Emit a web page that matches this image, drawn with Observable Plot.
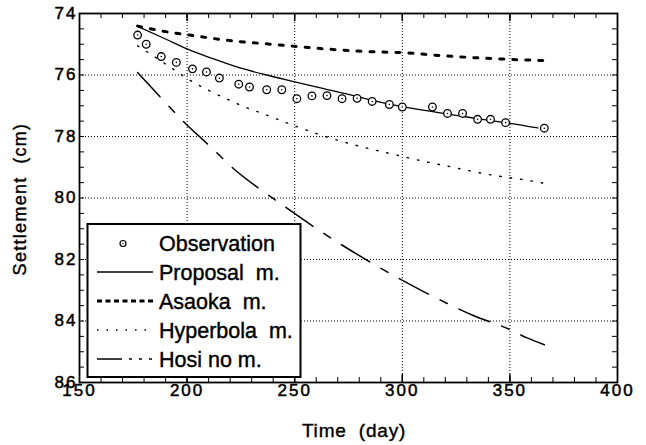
<!DOCTYPE html>
<html><head><meta charset="utf-8">
<script src="https://cdn.jsdelivr.net/npm/d3@7"></script>
<script src="https://cdn.jsdelivr.net/npm/@observablehq/plot@0.6"></script>
<style>body{margin:0;background:#fff}#chart{width:646px;height:445px}</style>
</head><body><div id="chart"></div>
<script>
// Observations
const obsDay = [177,181,188,195,202.5,209,215,224,229,237,244,251,258,265,272,279,286,294,300,314,321,328,335,341,348,366];
const obsCm  = [74.70,75.00,75.40,75.59,75.80,75.90,76.10,76.30,76.39,76.48,76.48,76.77,76.68,76.67,76.77,76.76,76.86,76.96,77.04,77.04,77.25,77.25,77.44,77.44,77.55,77.73];
// Proposal method
const propDay = [177,190,200,212,225,237,250,262,275,287,300,312,325,337,350,363];
const propCm  = [74.42,74.83,75.15,75.47,75.78,76.00,76.22,76.42,76.63,76.84,77.03,77.17,77.31,77.44,77.57,77.72];
// Asaoka method
const asaDay = [177,190,202,221,239,257,276,288,299,318,343,361,366];
const asaCm  = [74.41,74.59,74.71,74.89,75.00,75.11,75.21,75.25,75.27,75.37,75.47,75.52,75.53];
// Hyperbola method
const hypDay = [177,188,197,202,209,215,221,226,233,245,257,269,282,294,307,320,343,356,366];
const hypCm  = [75.05,75.55,75.97,76.20,76.46,76.67,76.86,77.02,77.20,77.52,77.83,78.10,78.35,78.55,78.76,78.95,79.27,79.40,79.52];
// Hosi no method
const hosiDay = [177,188,199,211,223,235,245,260,284,298,309,333,349,358,366];
const hosiCm  = [75.92,76.75,77.56,78.34,79.13,79.77,80.26,80.99,82.04,82.60,83.01,83.82,84.25,84.55,84.77];

const xTicks = [150,200,250,300,350,400];
const yTicks = [74,76,78,80,82,84,86];
const xGrid = [200,250,300,350];
const yGrid = [76,78,80,82,84];
const xMinor = d3.range(150,401,10);
const yMinor = d3.range(74,86.01,0.5);

const legendItems = ["Observation","Proposal  m.","Asaoka  m.","Hyperbola  m.","Hosi no m."];

const zip = (xs, ys) => xs.map((x,i)=>({x, y: ys[i]}));
const obs = zip(obsDay, obsCm), prop = zip(propDay, propCm), asa = zip(asaDay, asaCm),
      hyp = zip(hypDay, hypCm), hosi = zip(hosiDay, hosiCm);

const W=646, H=445, mT=13, mB=63, mL=79, mR=29;
const ph = H-mT-mB, pw = W-mL-mR;
const tl = 5;

const chart = Plot.plot({
  width: W, height: H,
  marginTop: mT, marginBottom: mB, marginLeft: mL, marginRight: mR,
  style: {fontFamily: "'Liberation Sans', Arial, sans-serif", color: "#000", background: "#fff"},
  x: {domain: [150,400]},
  y: {domain: [74,86], reverse: true},
  marks: [
    Plot.ruleX(xGrid, {stroke: "#000", strokeWidth: 1, strokeDasharray: "1,2"}),
    Plot.ruleY(yGrid, {stroke: "#000", strokeWidth: 1, strokeDasharray: "1,2"}),
    // inward ticks
    Plot.tickX(xMinor, {x: d=>d, insetBottom: ph - tl, stroke: "#000"}),
    Plot.tickX(xMinor, {x: d=>d, insetTop: ph - tl, stroke: "#000"}),
    Plot.tickY(yMinor, {y: d=>d, insetRight: pw - tl, stroke: "#000"}),
    Plot.tickY(yMinor, {y: d=>d, insetLeft: pw - tl, stroke: "#000"}),
    Plot.tickX(xGrid, {x: d=>d, insetBottom: ph - 8, stroke: "#000", strokeWidth: 1.5}),
    Plot.tickX(xGrid, {x: d=>d, insetTop: ph - 8, stroke: "#000", strokeWidth: 1.5}),
    Plot.axisX(xTicks, {anchor: "bottom", tickSize: 0, tickPadding: 1, fontSize: 17, tickFormat: d=>String(d), label: null}),
    Plot.axisY(yTicks, {anchor: "left", tickSize: 0, tickPadding: 2, fontSize: 17, tickFormat: d=>String(d), label: null}),
    Plot.line(hosi, {x: "x", y: "y", stroke: "#000", strokeWidth: 1.5, strokeDasharray: "33,13,8,13", curve: "monotone-x"}),
    Plot.line(hyp, {x: "x", y: "y", stroke: "#000", strokeWidth: 1.4, strokeDasharray: "1.5,9", curve: "monotone-x"}),
    Plot.line(asa, {x: "x", y: "y", stroke: "#000", strokeWidth: 3, strokeDasharray: "4,9", curve: "monotone-x"}),
    Plot.line(prop, {x: "x", y: "y", stroke: "#000", strokeWidth: 1.3, curve: "monotone-x"}),
    Plot.dot(obs, {x: "x", y: "y", r: 3.8, stroke: "#000", fill: "#fff", strokeWidth: 1.3}),
    Plot.dot(obs, {x: "x", y: "y", r: 0.8, fill: "#000"}),
    Plot.frame({stroke: "#000", strokeWidth: 1.8})
  ]
});
document.getElementById("chart").appendChild(chart);

const svg = d3.select(chart);
svg.selectAll("[aria-label='x-axis tick label'] text, [aria-label='y-axis tick label'] text")
   .style("letter-spacing", "2px").attr("stroke", "#000").attr("stroke-width", 0.5);

// axis titles
svg.append("text").attr("x", 354).attr("y", 437).attr("text-anchor", "middle")
  .attr("font-size", 19).style("letter-spacing", "0.8px").attr("fill", "#000")
  .attr("stroke", "#000").attr("stroke-width", 0.4)
  .text("Time  (day)");
svg.append("text").attr("transform", "translate(26,199) rotate(-90)").attr("text-anchor", "middle")
  .attr("font-size", 18).style("letter-spacing", "1.3px").attr("fill", "#000")
  .attr("stroke", "#000").attr("stroke-width", 0.4)
  .text("Settlement  (cm)");

// legend
const lg = svg.append("g");
lg.append("rect").attr("x", 87.5).attr("y", 224).attr("width", 213).attr("height", 153)
  .attr("fill", "#fff").attr("stroke", "#000").attr("stroke-width", 2);
const rowY = [243.5, 272, 301, 330, 359];
const sx1 = 97, sx2 = 153;
lg.append("circle").attr("cx", 123).attr("cy", rowY[0]).attr("r", 3).attr("fill", "#fff").attr("stroke", "#000").attr("stroke-width", 1.2);
lg.append("circle").attr("cx", 123).attr("cy", rowY[0]).attr("r", 0.7).attr("fill", "#000");
const styles = [null,
  {w: 1.3, d: null},
  {w: 3, d: "5,3.5"},
  {w: 1.3, d: "1.5,8"},
  {w: 1.4, d: "25,7,3,7,3,7,3,100"}];
for (let i = 1; i < 5; i++) {
  lg.append("line").attr("x1", sx1).attr("x2", sx2).attr("y1", rowY[i]).attr("y2", rowY[i])
    .attr("stroke", "#000").attr("stroke-width", styles[i].w)
    .attr("stroke-dasharray", styles[i].d);
}
legendItems.forEach((t, i) => {
  lg.append("text").attr("x", 159).attr("y", rowY[i]).attr("dy", "0.36em")
    .attr("text-anchor", "start").attr("stroke", "#000").attr("stroke-width", 0.4)
    .attr("font-size", 21.5).attr("fill", "#000").text(t);
});
</script>
</body></html>
